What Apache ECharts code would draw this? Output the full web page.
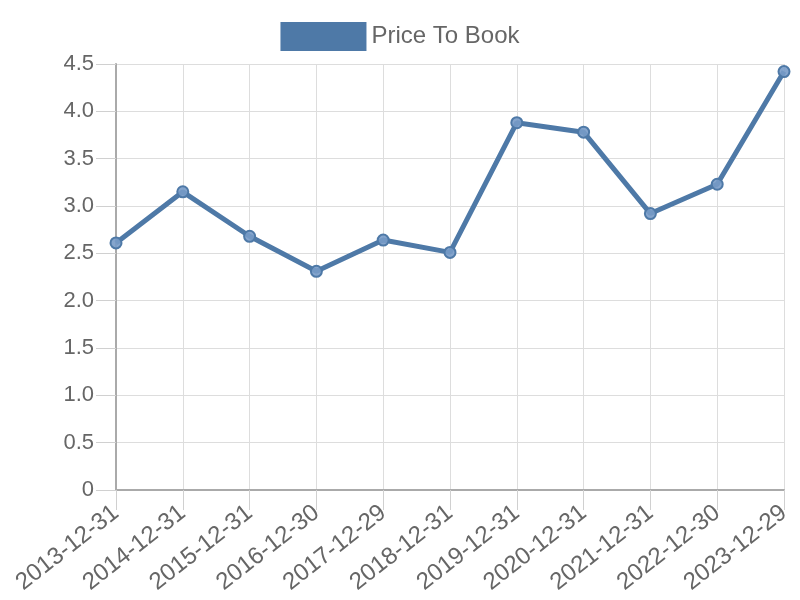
<!DOCTYPE html>
<html><head><meta charset="utf-8">
<script src="https://cdn.jsdelivr.net/npm/echarts@6/dist/echarts.min.js"></script>
<style>html,body{margin:0;padding:0;background:#fff}#c{width:800px;height:600px}</style>
</head><body><div id="c"></div>
<script>
const categories = ["2013-12-31","2014-12-31","2015-12-31","2016-12-30","2017-12-29","2018-12-31","2019-12-31","2020-12-31","2021-12-31","2022-12-30","2023-12-29"];
const priceToBook = [2.61, 3.15, 2.68, 2.31, 2.64, 2.51, 3.88, 3.78, 2.92, 3.23, 4.42];
const seriesName = "Price To Book";

const chart = echarts.init(document.getElementById('c'), null, {renderer:'canvas'});
chart.setOption({
  animation:false,
  legend:{top:17, left:'center', itemWidth:86, itemHeight:29, itemGap:10,
    icon:'rect',
    textStyle:{fontSize:24, color:'#666', fontFamily:'Liberation Sans'},
    data:[{name:seriesName, itemStyle:{color:'#4e79a7', borderWidth:0}}]},
  grid:{left:116, right:16, top:64, bottom:110, containLabel:false},
  xAxis:{type:'category', data:categories, boundaryGap:false,
    axisLine:{lineStyle:{color:'#aaa', width:2}},
    axisTick:{show:true, length:20, lineStyle:{color:'#d0d0d0'}},
    splitLine:{show:true, lineStyle:{color:'#ddd'}},
    axisLabel:{rotate:38, fontSize:24, color:'#666', fontFamily:'Liberation Sans', margin:20, interval:0}},
  yAxis:{type:'value', min:0, max:4.5, interval:0.5,
    axisLine:{show:true, lineStyle:{color:'#aaa', width:2}},
    axisTick:{show:true, length:20, lineStyle:{color:'#d0d0d0'}},
    splitLine:{show:true, lineStyle:{color:'#ddd'}},
    axisLabel:{fontSize:22, color:'#666', fontFamily:'Liberation Sans', margin:22,
      formatter:v=> v===0 ? '0' : v.toFixed(1)}},
  series:[{name:seriesName, type:'line', data:priceToBook,
    lineStyle:{color:'#4e79a7', width:5},
    symbol:'circle', symbolSize:11,
    itemStyle:{color:'rgba(120,155,200,0.9)', borderColor:'#4e79a7', borderWidth:2}}]
});
</script></body></html>
